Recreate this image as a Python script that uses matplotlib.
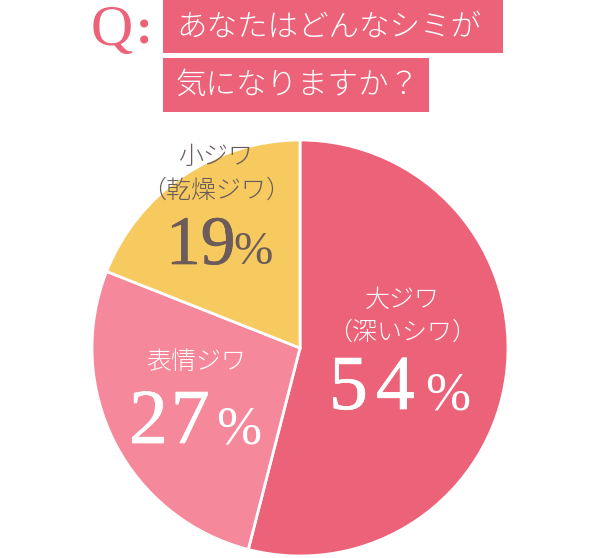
import matplotlib
matplotlib.use("Agg")
import matplotlib.pyplot as plt
from matplotlib.patches import Rectangle
import matplotlib.patheffects as pe

# ---- data ----
categories = ["大ジワ\n（深いシワ）", "表情ジワ", "小ジワ\n（乾燥ジワ）"]
values = [54, 27, 19]
value_labels = ["54", "27", "19"]
colors = ["#EC6279", "#F5889A", "#F6CA5F"]
text_colors = ["white", "white", "#6B5B5B"]
title_lines = ["あなたはどんなシミが", "気になりますか？"]

W, H = 600, 558
fig = plt.figure(figsize=(6, 5.58), dpi=100)
ax = fig.add_axes([0, 0, 1, 1])

def Y(yp):
    return H - yp

ax.pie(values, colors=colors, startangle=90, counterclock=False,
       center=(300, Y(348)), radius=208,
       wedgeprops=dict(edgecolor="white", linewidth=2))
ax.set_xlim(0, W)
ax.set_ylim(0, H)
ax.set_aspect("auto")
ax.axis("off")

JP = ["Noto Sans CJK JP", "DejaVu Sans"]
SERIF = "Liberation Serif"
PINK = "#EC6279"

# ---- title ----
ax.add_patch(Rectangle((163, Y(53)), 340, 53, color=PINK, lw=0))
ax.add_patch(Rectangle((163, Y(112)), 266, 54, color=PINK, lw=0))
ax.text(176, Y(27), title_lines[0], family=JP, fontsize=22, color="white",
        ha="left", va="center", fontweight="light")
ax.text(176, Y(85), title_lines[1], family=JP, fontsize=22, color="white",
        ha="left", va="center", fontweight="light")
ax.text(91, Y(45), "Q", family=SERIF, fontsize=42, color=PINK,
        ha="left", va="baseline")
ax.text(136, Y(44), ":", family=SERIF, fontsize=36, color=PINK,
        ha="left", va="baseline", fontweight="bold")

fig.canvas.draw()
renderer = fig.canvas.get_renderer()

def heavy(color):
    return [pe.withStroke(linewidth=0.5, foreground=color)]

def draw_number(digits, x_left, gap, baseline, size, color):
    x = x_left
    for d in digits:
        t = ax.text(x, Y(baseline), d, family=SERIF, fontsize=size,
                    color=color, ha="left", va="baseline",
                    path_effects=heavy(color))
        x += t.get_window_extent(renderer).width + gap

# label settings (pixel positions)
label_pos = [(402, 300, 332), (196, 362, None), (216, 157, 190)]
# x_left, gap, baseline, size, percent_x, percent_size
num_pos = [(329, 8, 409, 56, 425, 39),
           (129, 3, 443, 56, 216, 39),
           (166, 0, 264, 50, 233, 34)]

for i, cat in enumerate(categories):
    lines = cat.split("\n")
    cx, y1, y2 = label_pos[i]
    ax.text(cx, Y(y1), lines[0], family=JP, fontsize=18, color=text_colors[i],
            ha="center", va="center", fontweight="light")
    if len(lines) > 1:
        ax.text(cx, Y(y2), lines[1], family=JP, fontsize=18, color=text_colors[i],
                ha="center", va="center", fontweight="light")
    xl, gap, base, size, px, psize = num_pos[i]
    if gap > 0:
        draw_number(value_labels[i], xl, gap, base, size, text_colors[i])
    else:
        ax.text(xl, Y(base), value_labels[i], family=SERIF, fontsize=size,
                color=text_colors[i], ha="left", va="baseline",
                path_effects=heavy(text_colors[i]))
    ax.text(px, Y(base), "%", family=SERIF, fontsize=psize,
            color=text_colors[i], ha="left", va="baseline")

fig.savefig("out.png", dpi=100)
